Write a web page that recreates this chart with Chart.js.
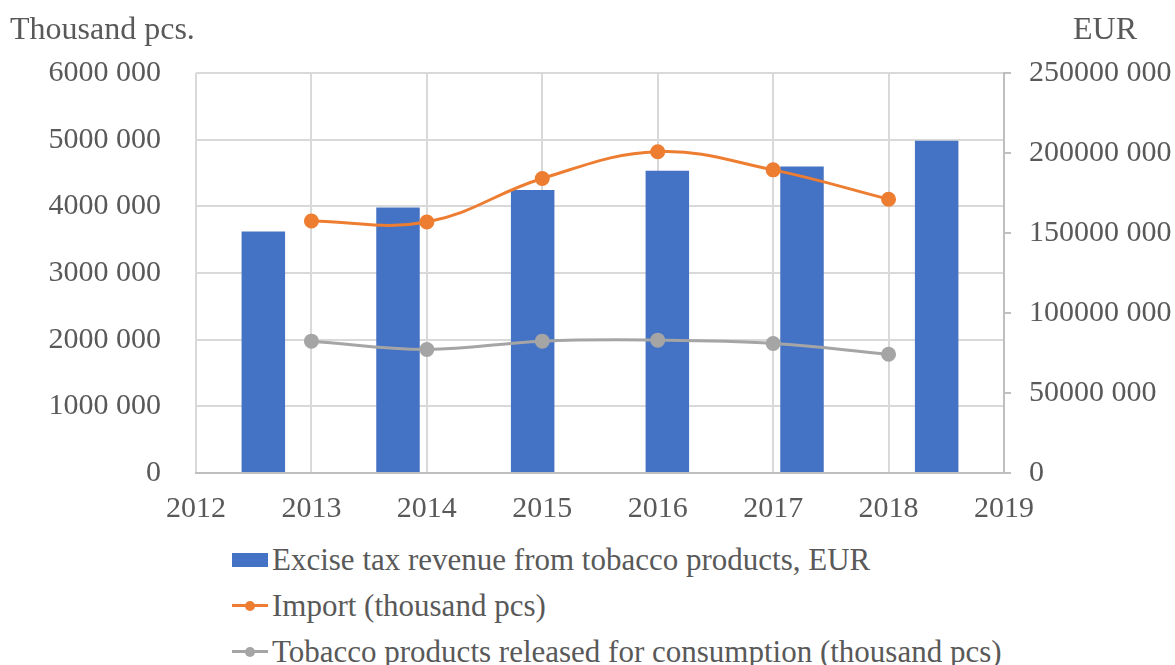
<!DOCTYPE html>
<html>
<head>
<meta charset="utf-8">
<script src="https://cdn.jsdelivr.net/npm/chart.js@4"></script>
<style>
  body { margin: 0; background: #fff; }
  #wrap { position: relative; width: 1175px; height: 665px; font-family: "Liberation Serif", serif; color: #595959; }
  #box { position: absolute; left: 0; top: 0; width: 1175px; height: 530px; }
  .ttl { position: absolute; font-size: 32px; top: 8px; line-height: 40px; }
  #legend { position: absolute; left: 232px; top: 537px; font-size: 31px; }
  .row { display: flex; align-items: center; height: 46px; }
  .mk { position: relative; width: 36px; height: 14px; margin-right: 4px; }
  .ln { position: absolute; left: 0; top: 5px; width: 36px; height: 3px; }
  .dot { position: absolute; left: 13px; top: 2px; width: 10px; height: 10px; border-radius: 50%; }
</style>
</head>
<body>
<div id="wrap">
  <div id="box"><canvas id="chart"></canvas></div>
  <div class="ttl" style="left:10px">Thousand pcs.</div>
  <div class="ttl" style="left:1073px">EUR</div>
  <div id="legend"></div>
</div>
<script>
// years of the line points and bar categories
const years = [2013, 2014, 2015, 2016, 2017, 2018];
const barCats = ['2013', '2014', '2015', '2016', '2017', '2018'];

// series
const exciseRevenue = [151000000, 166000000, 176900000, 188900000, 191600000, 207700000];
const importPcs = [3780000, 3766000, 4418000, 4818000, 4547000, 4107000];
const releasedPcs = [1978000, 1853000, 1978000, 1993000, 1943000, 1782000];

const names = [
  'Excise tax revenue from tobacco products, EUR',
  'Import (thousand pcs)',
  'Tobacco products released for consumption (thousand pcs)'
];
const colors = ['#4472C4', '#ED7D31', '#A5A5A5'];

const textColor = '#595959';
const gridColor = '#d9d9d9';
const tickFont = { family: 'Liberation Serif', size: 30 };

function fmt(v) {
  if (v === 0) return '0';
  return Math.floor(v / 1000) + ' ' + String(v % 1000).padStart(3, '0');
}

const pts = arr => years.map((y, i) => ({ x: y, y: arr[i] }));

const ctx = document.getElementById('chart').getContext('2d');
new Chart(ctx, {
  data: {
    labels: barCats,
    datasets: [
      {
        type: 'bar',
        label: names[0],
        data: exciseRevenue,
        backgroundColor: colors[0],
        xAxisID: 'xb',
        yAxisID: 'y1',
        grouped: false,
        categoryPercentage: 1,
        barPercentage: 0.323,
        order: 3
      },
      {
        type: 'line',
        label: names[1],
        data: pts(importPcs),
        borderColor: colors[1],
        backgroundColor: colors[1],
        borderWidth: 3,
        pointRadius: 6,
        tension: 0.4,
        xAxisID: 'x',
        yAxisID: 'y',
        order: 1
      },
      {
        type: 'line',
        label: names[2],
        data: pts(releasedPcs),
        borderColor: colors[2],
        backgroundColor: colors[2],
        borderWidth: 3,
        pointRadius: 6,
        tension: 0.4,
        xAxisID: 'x',
        yAxisID: 'y',
        order: 2
      }
    ]
  },
  options: {
    responsive: true,
    maintainAspectRatio: false,
    animation: false,
    layout: { padding: { top: 73, left: 0, right: 0, bottom: 0 } },
    plugins: { legend: { display: false }, tooltip: { enabled: false } },
    scales: {
      x: {
        type: 'linear',
        position: 'bottom',
        min: 2012,
        max: 2019,
        ticks: {
          stepSize: 1,
          color: textColor,
          font: tickFont,
          padding: 18,
          callback: v => String(v)
        },
        grid: { color: gridColor, lineWidth: 2, drawTicks: false },
        border: { color: '#bfbfbf', width: 2 },
        afterFit: s => { s.height = 57; }
      },
      xb: {
        type: 'category',
        display: false,
        offset: true
      },
      y: {
        position: 'left',
        min: 0,
        max: 6000000,
        ticks: {
          stepSize: 1000000,
          color: textColor,
          font: tickFont,
          padding: 35,
          callback: v => fmt(v)
        },
        grid: { color: gridColor, lineWidth: 2, drawTicks: false },
        border: { display: false },
        afterFit: s => { s.width = 196; }
      },
      y1: {
        position: 'right',
        min: 0,
        max: 250000000,
        ticks: {
          stepSize: 50000000,
          color: textColor,
          font: tickFont,
          padding: 18,
          callback: v => fmt(v)
        },
        grid: { drawOnChartArea: false, color: '#bfbfbf', lineWidth: 2, tickLength: 7 },
        border: { color: '#bfbfbf', width: 2 },
        afterFit: s => { s.width = 171; }
      }
    }
  }
});

// legend
const leg = document.getElementById('legend');
names.forEach((n, i) => {
  const row = document.createElement('div');
  row.className = 'row';
  const mk = document.createElement('span');
  mk.className = 'mk';
  if (i === 0) {
    mk.style.background = colors[i];
  } else {
    mk.innerHTML = `<span class="ln" style="background:${colors[i]}"></span><span class="dot" style="background:${colors[i]}"></span>`;
  }
  row.appendChild(mk);
  const t = document.createElement('span');
  t.textContent = n;
  row.appendChild(t);
  leg.appendChild(row);
});
</script>
</body>
</html>
